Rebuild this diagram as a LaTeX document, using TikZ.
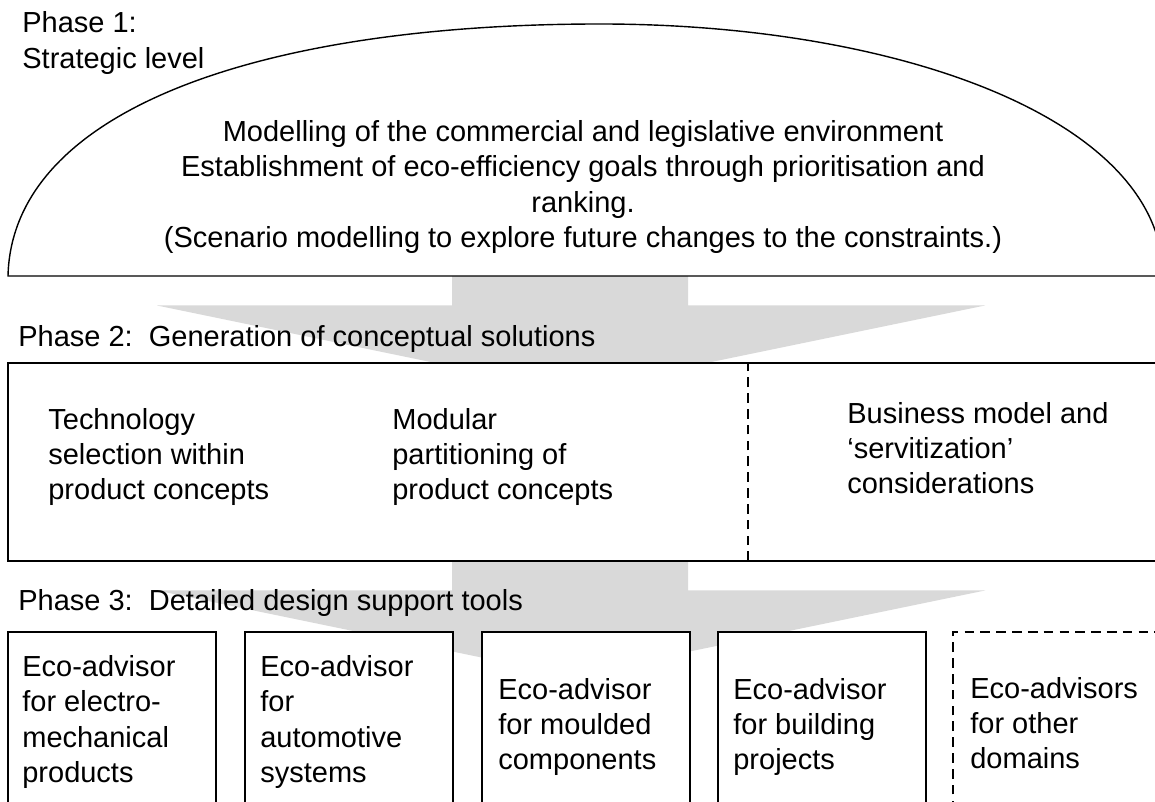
\documentclass[tikz,border=0pt]{standalone}
\usepackage{fontspec}
\setmainfont{Liberation Sans}
\usepackage{tikz}
\usetikzlibrary{calc}

\definecolor{arrowgrey}{RGB}{217,217,217}

\begin{document}
\begin{tikzpicture}[
    txt/.style={font=\fontsize{16.5}{20}\selectfont, inner sep=0pt},
    phaselabel/.style={txt, anchor=west, align=left},
    boxtext/.style={txt, anchor=west, align=left},
    phasebox/.style={draw, line width=0.9pt, fill=white},
    dashline/.style={line width=0.8pt, dash pattern=on 5.5pt off 3.5pt}
]
    \useasboundingbox (0,0) rectangle (23.1,16.02);

    % Grey flow arrows between the phases (boxes are drawn over them)
    \foreach \ytop in {10.5,4.8} {
        \fill[arrowgrey] (9.04,\ytop) -- (13.76,\ytop) -- (13.76,\ytop-0.59)
            -- (19.7,\ytop-0.59) -- (11.42,\ytop-2.3) -- (3.14,\ytop-0.59)
            -- (9.04,\ytop-0.59) -- cycle;
    }

    % Phase 1 dome
    \draw[line width=0.8pt, fill=white] (0.16,10.5)
        .. controls (0.24,13.82) and (5.2,15.54) .. (12.0,15.54)
        .. controls (18.0,15.54) and (23.26,13.62) .. (23.26,10.5) -- cycle;
    \node[phaselabel] (phase1) at (0.44,15.16) {Phase 1:\\Strategic level};
    \node[txt, align=center] (strategy) at (11.66,12.28)
        {Modelling of the commercial and legislative environment\\
         Establishment of eco-efficiency goals through prioritisation and\\
         ranking.\\
         (Scenario modelling to explore future changes to the constraints.)};

    % Phase 2 box
    \node[phaselabel] (phase2) at (0.36,9.24) {Phase 2:\ \ Generation of conceptual solutions};
    \draw[phasebox] (0.16,4.8) rectangle (23.5,8.76);
    \draw[dashline] (14.96,4.8) -- (14.96,8.76);
    \node[boxtext] (techsel) at (0.96,6.88) {Technology\\selection within\\product concepts};
    \node[boxtext] (modular) at (7.84,6.88) {Modular\\partitioning of\\product concepts};
    \node[boxtext] (business) at (16.94,7.06) {Business model and\\`servitization'\\considerations};

    % Phase 3 boxes
    \node[phaselabel] (phase3) at (0.36,3.96) {Phase 3:\ \ Detailed design support tools};
    \foreach \x in {0.16,4.9,9.64,14.36} {
        \draw[phasebox] (\x,-0.5) rectangle ++(4.16,3.88);
    }
    \draw[phasebox, dashline] (19.06,-0.5) rectangle (23.5,3.38);
    \node[boxtext] (electro) at (0.44,1.58) {Eco-advisor\\for electro-\\mechanical\\products};
    \node[boxtext] (automotive) at (5.2,1.58) {Eco-advisor\\for\\automotive\\systems};
    \node[boxtext] (moulded) at (9.96,1.48) {Eco-advisor\\for moulded\\components};
    \node[boxtext] (building) at (14.66,1.48) {Eco-advisor\\for building\\projects};
    \node[boxtext] (otherdom) at (19.4,1.56) {Eco-advisors\\for other\\domains};
\end{tikzpicture}
\end{document}
